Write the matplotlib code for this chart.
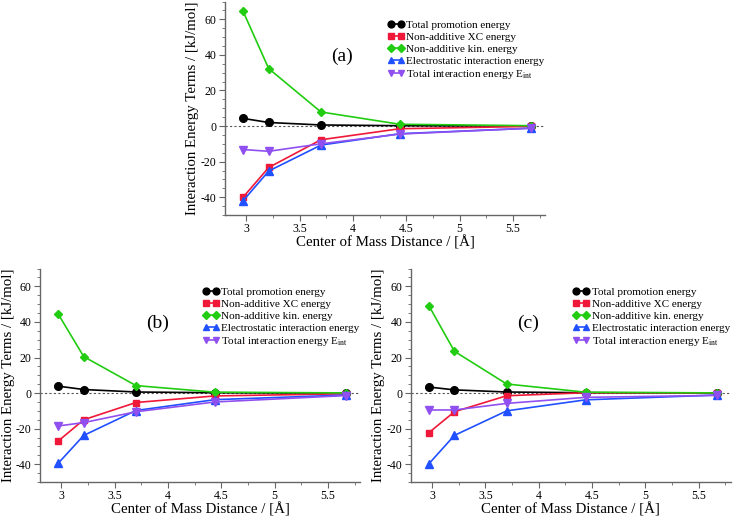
import matplotlib
matplotlib.use('Agg')
import matplotlib.pyplot as plt
from matplotlib.ticker import MultipleLocator

plt.rcParams['font.family'] = ['Liberation Serif', 'DejaVu Serif']
plt.rcParams['axes.unicode_minus'] = False
plt.rcParams['mathtext.fontset'] = 'stix'

# center of mass distances (Angstrom)
dist = [2.97, 3.21, 3.70, 4.44, 5.67]

labels = ['Total promotion energy',
          'Non-additive XC energy',
          'Non-additive kin. energy',
          'Electrostatic interaction energy',
          'Total interaction energy E$_{\\mathrm{int}}$']

# panel (a)
promo_a = [4.3, 2.0, 0.6, 0.2, 0.0]
xc_a = [-40.0, -23.3, -7.7, -1.5, -0.2]
kin_a = [64.5, 32.3, 7.9, 1.0, 0.2]
elec_a = [-42.0, -25.3, -10.7, -4.3, -1.2]
tot_a = [-13.2, -14.2, -10.0, -4.5, -1.2]

# panel (b)
promo_b = [3.9, 2.0, 0.6, 0.2, 0.0]
xc_b = [-27.0, -15.0, -5.3, -1.6, -0.4]
kin_b = [44.5, 20.5, 4.2, 0.5, 0.1]
elec_b = [-39.5, -23.8, -9.8, -3.7, -1.1]
tot_b = [-18.5, -16.6, -10.5, -5.0, -1.4]

# panel (c)
promo_c = [3.4, 1.8, 0.6, 0.2, 0.0]
xc_c = [-22.3, -10.5, -1.5, 0.2, 0.1]
kin_c = [49.2, 23.5, 5.1, 0.5, 0.1]
elec_c = [-39.8, -23.8, -10.0, -3.8, -1.1]
tot_c = [-9.5, -9.5, -5.8, -2.4, -1.3]

colors = ['black', '#f01838', '#22cc11', '#2050ff', '#9050f0']
markers = ['o', 's', 'D', '^', 'v']
msizes = [5.5, 5, 4.5, 5.5, 5.5]

fig = plt.figure(figsize=(7.34, 5.18), dpi=100)

def panel(rect, series, tag):
    ax = fig.add_axes(rect)
    ax.axhline(0, color='#555555', lw=0.8, ls=(0, (2, 2)), zorder=1)
    for i, s in enumerate(series):
        ax.plot(dist, s, color=colors[i], marker=markers[i], ms=msizes[i],
                lw=1.2, label=labels[i], zorder=3)
    ax.set_xlim(2.8, 5.8)
    ax.set_ylim(-50, 70)
    ax.xaxis.set_major_locator(MultipleLocator(0.5))
    ax.xaxis.set_minor_locator(MultipleLocator(0.25))
    ax.yaxis.set_major_locator(MultipleLocator(20))
    ax.yaxis.set_minor_locator(MultipleLocator(5))
    ax.xaxis.set_major_formatter(plt.FuncFormatter(lambda v, p: ('%g' % v)))
    for sp in ['top', 'right']:
        ax.spines[sp].set_visible(False)
    for sp in ['left', 'bottom']:
        ax.spines[sp].set_color('#666666')
        ax.spines[sp].set_linewidth(1.0)
    ax.tick_params(which='major', direction='out', length=4, color='#666666',
                   labelsize=8.5, pad=2)
    ax.tick_params(which='minor', direction='out', length=2, color='#666666')
    ax.set_xlabel('Center of Mass Distance / [Å]', fontsize=10.7, labelpad=0)
    ax.set_ylabel('Interaction Energy Terms / [kJ/mol]', fontsize=10.7, labelpad=1)
    ax.text(3.9, 39, tag, fontsize=14, ha='center', va='center')
    ax.legend(loc='upper left', bbox_to_anchor=(0.5, 0.925), frameon=False,
              fontsize=8, numpoints=2, handlelength=1.5, handletextpad=0.2,
              labelspacing=0.2, borderpad=0.2, borderaxespad=0, markerscale=0.9)
    return ax

panel([0.3065, 0.585, 0.436, 0.412], [promo_a, xc_a, kin_a, elec_a, tot_a], '(a)')
panel([0.0545, 0.0695, 0.436, 0.412], [promo_b, xc_b, kin_b, elec_b, tot_b], '(b)')
panel([0.5595, 0.0695, 0.436, 0.412], [promo_c, xc_c, kin_c, elec_c, tot_c], '(c)')

fig.savefig('out.png', dpi=100)
